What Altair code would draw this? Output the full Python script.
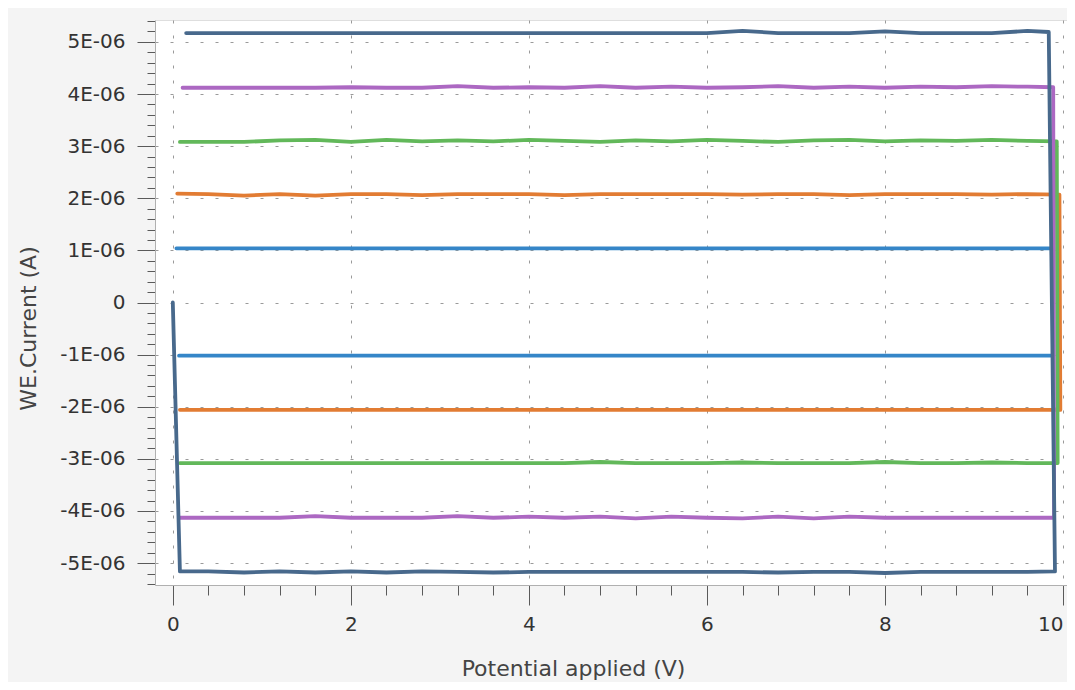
import altair as alt
import pandas as pd

# Shared potential grid (V) for the horizontal sweeps
XH = [0.4, 0.8, 1.2, 1.6, 2.0, 2.4, 2.8, 3.2, 3.6, 4.0, 4.4, 4.8,
      5.2, 5.6, 6.0, 6.4, 6.8, 7.2, 7.6, 8.0, 8.4, 8.8, 9.2, 9.6]

SERIES = ["s1", "s2", "s3", "s4", "s5"]
COLORS = ["#3586c8", "#e27c33", "#62b85a", "#ac68c2", "#48698c"]
WIDTHS = [3.8, 3.8, 3.8, 3.8, 4.2]

# corner x positions: top-left, top-right, bottom-right, bottom-left
CORNERS = {
    "s1": [0.04, 9.89, 9.89, 0.07],
    "s2": [0.05, 9.96, 9.97, 0.08],
    "s3": [0.08, 9.93, 9.94, 0.08],
    "s4": [0.11, 9.89, 9.90, 0.08],
    "s5": [0.15, 9.84, 9.91, 0.08],
}
# current (µA) at the corners: top-left, top-right, bottom-right, bottom-left
CORNER_Y = {
    "s1": [1.04, 1.04, -1.02, -1.02],
    "s2": [2.09, 2.07, -2.06, -2.06],
    "s3": [3.08, 3.09, -3.08, -3.08],
    "s4": [4.12, 4.13, -4.13, -4.13],
    "s5": [5.17, 5.19, -5.16, -5.16],
}
# top (forward) sweep currents (µA) at XH
TOP = {
    "s1": [1.04, 1.04, 1.04, 1.04, 1.04, 1.04, 1.04, 1.04, 1.04, 1.04, 1.04, 1.04,
           1.04, 1.04, 1.04, 1.04, 1.04, 1.04, 1.04, 1.04, 1.04, 1.04, 1.04, 1.04],
    "s2": [2.08, 2.05, 2.08, 2.05, 2.08, 2.08, 2.06, 2.08, 2.08, 2.08, 2.06, 2.08,
           2.08, 2.08, 2.08, 2.07, 2.08, 2.08, 2.06, 2.08, 2.08, 2.08, 2.07, 2.08],
    "s3": [3.08, 3.08, 3.11, 3.12, 3.08, 3.12, 3.09, 3.11, 3.09, 3.12, 3.10, 3.08,
           3.11, 3.09, 3.12, 3.10, 3.08, 3.11, 3.12, 3.09, 3.11, 3.10, 3.12, 3.10],
    "s4": [4.12, 4.12, 4.12, 4.12, 4.13, 4.12, 4.12, 4.15, 4.12, 4.13, 4.12, 4.15,
           4.12, 4.14, 4.12, 4.13, 4.15, 4.12, 4.14, 4.12, 4.14, 4.13, 4.15, 4.14],
    "s5": [5.17, 5.17, 5.17, 5.17, 5.17, 5.17, 5.17, 5.17, 5.17, 5.17, 5.17, 5.17,
           5.17, 5.17, 5.17, 5.21, 5.17, 5.17, 5.17, 5.20, 5.17, 5.17, 5.17, 5.21],
}
# bottom (reverse) sweep currents (µA) at XH
BOTTOM = {
    "s1": [-1.02, -1.02, -1.02, -1.02, -1.02, -1.02, -1.02, -1.02, -1.02, -1.02, -1.02, -1.02,
           -1.02, -1.02, -1.02, -1.02, -1.02, -1.02, -1.02, -1.02, -1.02, -1.02, -1.02, -1.02],
    "s2": [-2.06, -2.06, -2.06, -2.06, -2.06, -2.06, -2.06, -2.06, -2.06, -2.06, -2.06, -2.06,
           -2.06, -2.06, -2.06, -2.06, -2.06, -2.06, -2.06, -2.06, -2.06, -2.06, -2.06, -2.06],
    "s3": [-3.08, -3.08, -3.08, -3.08, -3.08, -3.08, -3.08, -3.08, -3.08, -3.08, -3.08, -3.06,
           -3.08, -3.08, -3.08, -3.07, -3.08, -3.08, -3.08, -3.06, -3.08, -3.08, -3.07, -3.08],
    "s4": [-4.13, -4.13, -4.13, -4.10, -4.13, -4.13, -4.13, -4.10, -4.13, -4.11, -4.13, -4.11,
           -4.14, -4.11, -4.13, -4.14, -4.11, -4.14, -4.11, -4.13, -4.13, -4.13, -4.13, -4.13],
    "s5": [-5.16, -5.18, -5.16, -5.18, -5.16, -5.18, -5.16, -5.17, -5.18, -5.17, -5.17, -5.17,
           -5.17, -5.17, -5.17, -5.17, -5.18, -5.17, -5.17, -5.19, -5.17, -5.17, -5.17, -5.17],
}
# the outermost scan starts from rest at 0 V, 0 A
START = {"s5": [0.0, 0.0]}

rows = []
for s in SERIES:
    cx = CORNERS[s]
    cy = CORNER_Y[s]
    pts = []
    pts.append((cx[0], cy[0]))
    pts += list(zip(XH, TOP[s]))
    pts.append((cx[1], cy[1]))
    pts.append((cx[2], cy[2]))
    pts += list(zip(XH[::-1], BOTTOM[s][::-1]))
    pts.append((cx[3], cy[3]))
    if s in START:
        pts.append(tuple(START[s]))
    for i, (x, y) in enumerate(pts):
        rows.append({"series": s, "i": i, "V": x, "I": y})
df = pd.DataFrame(rows)

X_TICKS = [round(k * 0.4, 1) for k in range(0, 26)]
Y_TICKS = [round(k * 0.2, 1) for k in range(-27, 28)]

y_major = "abs(datum.value - round(datum.value)) < 0.001"
x_major = "abs(datum.value / 2 - round(datum.value / 2)) < 0.001"

FONT = "DejaVu Sans"

x_axis = alt.Axis(
    title="Potential applied (V)",
    values=X_TICKS,
    labelExpr=f"{x_major} ? '' + round(datum.value) : ''",
    tickSize={"condition": {"test": x_major, "value": 20}, "value": 10},
    gridOpacity={"condition": {"test": x_major, "value": 1}, "value": 0},
    gridDash=[3, 12], gridColor="#9a9a9a", gridWidth=1,
    tickColor="#5a5a5a", domainColor="#b0b0b0",
    labelFont=FONT, labelFontSize=20, labelColor="#333333", labelPadding=9,
    titleFont=FONT, titleFontSize=22, titleFontWeight="normal", titleColor="#444444",
    titleX=418, titleY=83, titleBaseline="middle",
    labelFlush=8, labelOverlap=False,
)
y_axis = alt.Axis(
    title="WE.Current (A)",
    values=Y_TICKS,
    labelExpr=(f"{y_major} ? (round(datum.value) == 0 ? '0' : "
               "(datum.value < 0 ? '-' : '') + abs(round(datum.value)) + 'E-06') : ''"),
    tickSize={"condition": {"test": y_major, "value": 18}, "value": 8},
    gridOpacity={"condition": {"test": y_major, "value": 1}, "value": 0},
    gridDash=[3, 12], gridColor="#9a9a9a", gridWidth=1,
    tickColor="#5a5a5a", domainColor="#b0b0b0",
    labelFont=FONT, labelFontSize=20, labelColor="#333333", labelPadding=12,
    titleFont=FONT, titleFontSize=22, titleFontWeight="normal", titleColor="#444444",
    titleX=-127, titleY=308, titleBaseline="middle",
    labelFlush=False, labelOverlap=False,
)

chart = alt.Chart(df).mark_line(strokeJoin="round", strokeCap="round").encode(
    x=alt.X("V:Q", scale=alt.Scale(domain=[-0.2, 10.045], nice=False, zero=False), axis=x_axis),
    y=alt.Y("I:Q", scale=alt.Scale(domain=[-5.42, 5.42], nice=False, zero=False), axis=y_axis),
    color=alt.Color("series:N", scale=alt.Scale(domain=SERIES, range=COLORS), legend=None),
    strokeWidth=alt.StrokeWidth("series:N", scale=alt.Scale(domain=SERIES, range=WIDTHS), legend=None),
    order="i:Q",
    detail="series:N",
).properties(
    width=912, height=565,
    autosize=alt.AutoSizeParams(type="none"),
    padding={"left": 147, "top": 12, "right": 0, "bottom": 97},
    background="#f4f4f4",
).configure_view(
    fill="white", stroke="#dedede", strokeWidth=1,
)

chart.save("out.html", embed_options={"renderer": "svg", "actions": False})
